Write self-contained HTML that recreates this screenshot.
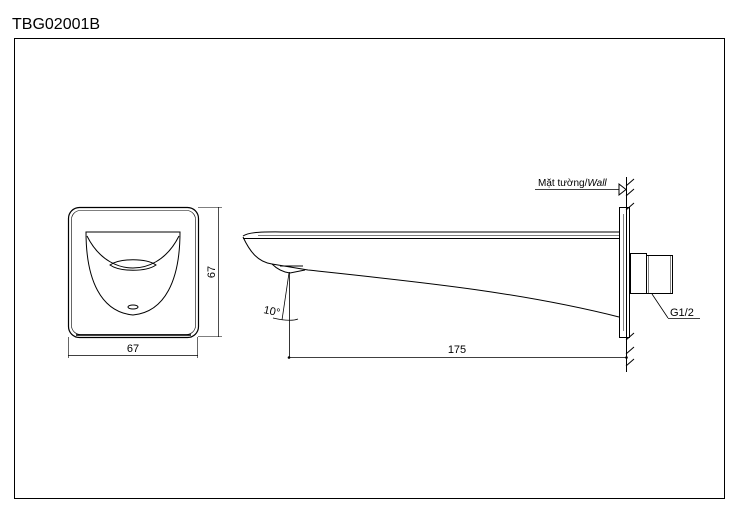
<!DOCTYPE html>
<html><head><meta charset="utf-8"><style>
body{margin:0;background:#fff;}
svg{display:block;font-family:"Liberation Sans",sans-serif;}
</style></head><body>
<svg width="738" height="518" viewBox="0 0 738 518" xmlns="http://www.w3.org/2000/svg">
<text x="12" y="29" font-size="16" fill="#000">TBG02001B</text>
<rect x="14.5" y="38.5" width="710" height="460" fill="none" stroke="#000" stroke-width="1"/>
<g fill="none" stroke="#000" stroke-width="1">
<rect x="68.5" y="207.5" width="130" height="130" rx="11" stroke-width="1.2"/>
<rect x="71.5" y="210.5" width="124" height="124" rx="9" stroke-width="0.6"/>
<line x1="76" y1="335" x2="191" y2="335" stroke-width="1.5"/>
<path d="M86 232 L180 232 C180 280 165 312 133 315 C101 312 86 280 86 232 Z"/>
<path d="M87 236 C100 262 120 268 133 268 C146 268 166 262 179 236"/>
<path d="M110 265 C120 258 146 258 156 265 C146 272 120 272 110 265 Z"/>
<ellipse cx="133" cy="307" rx="5" ry="2"/>
<line x1="198" y1="207.5" x2="222" y2="207.5" stroke-width="0.6"/>
<line x1="198" y1="336.5" x2="222" y2="336.5" stroke-width="0.6"/>
<line x1="218.5" y1="207" x2="218.5" y2="337" stroke-width="0.7"/>
<line x1="68.5" y1="337" x2="68.5" y2="358" stroke-width="0.6"/>
<line x1="197.5" y1="337" x2="197.5" y2="358" stroke-width="0.6"/>
<line x1="68" y1="355.5" x2="198" y2="355.5" stroke-width="0.7"/>
<path d="M243 236 C250 231 270 232 290 232 L619 232"/>
<line x1="258" y1="235.5" x2="619" y2="235.5" stroke-width="0.6"/>
<line x1="243" y1="238.5" x2="619" y2="238.5"/>
<path d="M243 237 C250 252 258 262 272 264 L308 270 C420 282 520 292 619 317"/>
<path d="M272 264 C276 268 282 272 290 273 L305 270"/>
<path d="M280 266 L303 266"/>
<line x1="289.5" y1="272" x2="289.5" y2="358" stroke-width="0.8"/>
<line x1="289" y1="273" x2="282" y2="320" stroke-width="0.8"/>
<path d="M273 318 Q290 322 298 319" stroke-width="0.8"/>
<line x1="289" y1="357.5" x2="627" y2="357.5" stroke-width="0.8"/>
<rect x="619.5" y="207.5" width="10" height="130"/>
<line x1="623.5" y1="214" x2="623.5" y2="331" stroke-width="0.5"/>
<line x1="626.5" y1="177" x2="626.5" y2="372"/>
<rect x="630.5" y="253.5" width="16" height="40"/>
<rect x="646.5" y="255.5" width="26" height="38"/>
<line x1="648.5" y1="256" x2="648.5" y2="293" stroke-width="0.5"/>
<line x1="670.5" y1="256" x2="670.5" y2="293" stroke-width="0.5"/>
<line x1="652" y1="294" x2="668" y2="318" stroke-width="0.8"/>
<line x1="668" y1="318.5" x2="700" y2="318.5" stroke-width="0.8"/>
<path d="M626 186 L634 179 M626 196 L634 189 M626 210 L634 203 M626 340 L634 333 M626 354 L634 347 M626 366 L634 359"/>
<line x1="535" y1="189.5" x2="619" y2="189.5" stroke-width="0.8"/>
<path d="M619 184 L626 189.5 L619 195 Z"/>
</g>
<circle cx="289" cy="357.5" r="1.3" fill="#000"/>
<circle cx="626.5" cy="357.5" r="1.3" fill="#000"/>
<text x="133" y="352" font-size="11" text-anchor="middle">67</text>
<text x="0" y="0" font-size="11" text-anchor="middle" transform="translate(215,272) rotate(-90)">67</text>
<text x="457" y="353" font-size="11" text-anchor="middle">175</text>
<text x="0" y="0" font-size="11" transform="translate(263,313) rotate(12)">10°</text>
<text x="538" y="186" font-size="10">Mặt tường/<tspan font-style="italic">Wall</tspan></text>
<text x="670" y="316" font-size="11">G1/2</text>
</svg>
</body></html>
